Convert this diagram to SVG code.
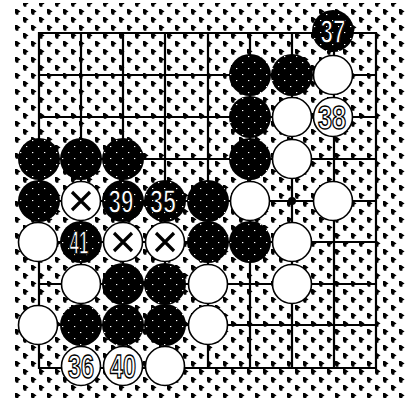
<svg xmlns="http://www.w3.org/2000/svg" width="406" height="398" viewBox="0 0 406 398">
<defs>
<pattern id="dots" patternUnits="userSpaceOnUse" x="15" y="9" width="16" height="16">
<path id="gl" d="M0,0 h2 l3.6,2.6 l-2.2,1.2 v1.9 h-2.4 l-1,-1.6 z" fill="#000"/>
<use href="#gl" x="8" y="8"/>
</pattern>
<pattern id="bs" patternUnits="userSpaceOnUse" x="0" y="0" width="12" height="12">
<rect width="12" height="12" fill="#000"/>
<rect x="2" y="2" width="1.3" height="1.1" fill="#fff"/>
<rect x="8" y="8" width="1.3" height="1.1" fill="#fff"/>
</pattern>
<style>
.ln{stroke:#000;stroke-width:2.2;fill:none}
.bk{fill:url(#bs)}
.wh{fill:#fff;stroke:#000;stroke-width:1.6}
.num{font-family:"Liberation Sans","DejaVu Sans",sans-serif;font-weight:bold;font-size:33px;text-anchor:middle;fill:#fff;stroke:#000;stroke-width:1.5;}
.x{stroke:#000;stroke-width:3.2;stroke-linecap:butt}
</style>
</defs>
<rect width="406" height="398" fill="#fff"/>
<rect x="13" y="3" width="393" height="395" fill="url(#dots)"/>
<g id="connectors">
<path class="ln" d="M39,33H376V368H39Z"/>
<path class="ln" d="M39,75H376M39,117H376M39,159H376M39,201H376M39,242H376M39,284H376M39,325H376"/>
<path class="ln" d="M81,33V368M123,33V368M165,33V368M208,33V368M250,33V368M292,33V368M334,33V368"/>
<circle cx="292" cy="201" r="4" fill="#000"/>
</g>
<g id="b37"><circle class="bk" cx="333" cy="31" r="21"/><text class="num" x="333" y="43" textLength="25" lengthAdjust="spacingAndGlyphs">37</text></g>
<g id="b51"><circle class="bk" cx="250" cy="75" r="21"/></g>
<g id="b61"><circle class="bk" cx="292" cy="75" r="21"/></g>
<g id="b52"><circle class="bk" cx="250" cy="117" r="21"/></g>
<g id="b03"><circle class="bk" cx="39" cy="159" r="21"/></g>
<g id="b13"><circle class="bk" cx="81" cy="159" r="21"/></g>
<g id="b23"><circle class="bk" cx="123" cy="159" r="21"/></g>
<g id="b53"><circle class="bk" cx="250" cy="159" r="21"/></g>
<g id="b04"><circle class="bk" cx="39" cy="201" r="21"/></g>
<g id="b39"><circle class="bk" cx="123" cy="201" r="21"/><text class="num" x="121" y="213" textLength="25" lengthAdjust="spacingAndGlyphs">39</text></g>
<g id="b35"><circle class="bk" cx="165" cy="201" r="21"/><text class="num" x="163" y="213" textLength="26" lengthAdjust="spacingAndGlyphs">35</text></g>
<g id="b44"><circle class="bk" cx="208" cy="201" r="21"/></g>
<g id="b41"><circle class="bk" cx="81" cy="242" r="21"/><text class="num" x="79" y="254" textLength="19" lengthAdjust="spacingAndGlyphs">41</text></g>
<g id="b45"><circle class="bk" cx="208" cy="242" r="21"/></g>
<g id="b55"><circle class="bk" cx="250" cy="242" r="21"/></g>
<g id="b26"><circle class="bk" cx="123" cy="284" r="21"/></g>
<g id="b36s"><circle class="bk" cx="165" cy="284" r="21"/></g>
<g id="b17"><circle class="bk" cx="81" cy="325" r="21"/></g>
<g id="b27"><circle class="bk" cx="123" cy="325" r="21"/></g>
<g id="b37s"><circle class="bk" cx="165" cy="325" r="21"/></g>
<g id="w71"><circle class="wh" cx="333" cy="75" r="19.5"/></g>
<g id="w62"><circle class="wh" cx="292" cy="117" r="19.5"/></g>
<g id="w38"><circle class="wh" cx="333" cy="117" r="19.5"/><text class="num" x="332" y="129" textLength="28" lengthAdjust="spacingAndGlyphs">38</text></g>
<g id="w63"><circle class="wh" cx="292" cy="159" r="19.5"/></g>
<g id="w14"><circle class="wh" cx="81" cy="201" r="19.5"/><path class="x" d="M72,192L90,210M90,192L72,210"/></g>
<g id="w54"><circle class="wh" cx="250" cy="201" r="19.5"/></g>
<g id="w74"><circle class="wh" cx="333" cy="201" r="19.5"/></g>
<g id="w05"><circle class="wh" cx="38" cy="242" r="19.5"/></g>
<g id="w25"><circle class="wh" cx="123" cy="242" r="19.5"/><path class="x" d="M114,233L132,251M132,233L114,251"/></g>
<g id="w35"><circle class="wh" cx="165" cy="242" r="19.5"/><path class="x" d="M156,233L174,251M174,233L156,251"/></g>
<g id="w65"><circle class="wh" cx="292" cy="242" r="19.5"/></g>
<g id="w16"><circle class="wh" cx="81" cy="284" r="19.5"/></g>
<g id="w46"><circle class="wh" cx="208" cy="284" r="19.5"/></g>
<g id="w66"><circle class="wh" cx="292" cy="284" r="19.5"/></g>
<g id="w07"><circle class="wh" cx="38" cy="325" r="19.5"/></g>
<g id="w47"><circle class="wh" cx="208" cy="325" r="19.5"/></g>
<g id="w36"><circle class="wh" cx="81" cy="366" r="19.5"/><text class="num" x="81" y="378" textLength="26" lengthAdjust="spacingAndGlyphs">36</text></g>
<g id="w40"><circle class="wh" cx="123" cy="366" r="19.5"/><text class="num" x="123" y="378" textLength="26" lengthAdjust="spacingAndGlyphs">40</text></g>
<g id="w38s"><circle class="wh" cx="165" cy="366" r="19.5"/></g>
</svg>
